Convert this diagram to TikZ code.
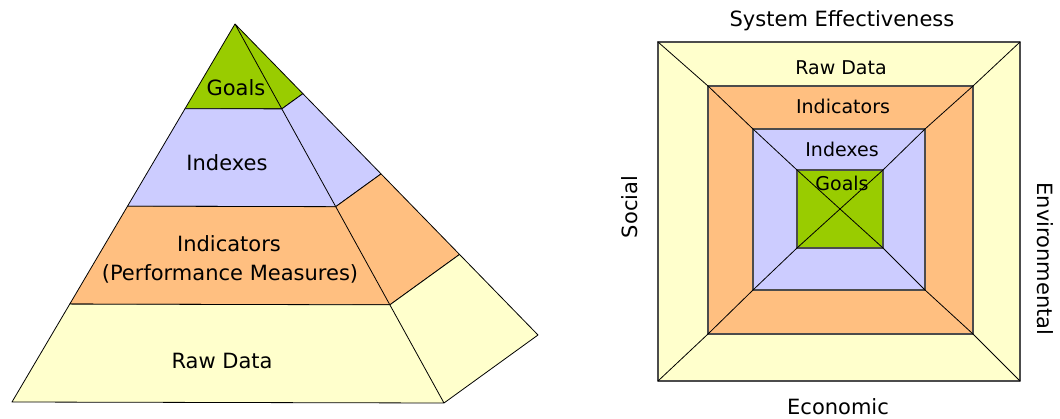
\documentclass[tikz,border=0pt]{standalone}
\usepackage{fontspec}
\setmainfont{DejaVu Sans}
\usetikzlibrary{calc}
\definecolor{goalgreen}{HTML}{99CC00}
\definecolor{indexblue}{HTML}{CCCCFF}
\definecolor{indorange}{HTML}{FFBF80}
\definecolor{rawyellow}{HTML}{FFFFCC}
\tikzset{
  big/.style={font=\fontsize{21}{25}\selectfont, anchor=base, inner sep=0pt},
  small/.style={font=\fontsize{19}{23}\selectfont, anchor=base, inner sep=0pt},
  band/.style={draw=black, line width=0.8pt},
  ring/.style={draw=black!70, line width=1.1pt}
}
\begin{document}
\begin{tikzpicture}[x=1pt, y=-1pt, line join=round, line cap=round]
  \useasboundingbox (0,0) rectangle (1060,419);
  % pyramid
  \coordinate (A) at (235,24);
  \coordinate (L) at (12,402);
  \coordinate (F) at (444,403);
  \coordinate (B) at (538,335);
  \foreach \t/\n in {0.224/1, 0.482/2, 0.741/3, 1/4}{
    \coordinate (L\n) at ($(A)!\t!(L)$);
    \coordinate (F\n) at ($(A)!\t!(F)$);
    \coordinate (B\n) at ($(A)!\t!(B)$);
  }
  \filldraw[band, fill=goalgreen] (A) -- (L1) -- (F1) -- cycle
    (A) -- (F1) -- (B1) -- cycle;
  \filldraw[band, fill=indexblue] (L1) -- (L2) -- (F2) -- (F1) -- cycle
    (F1) -- (F2) -- (B2) -- (B1) -- cycle;
  \filldraw[band, fill=indorange] (L2) -- (L3) -- (F3) -- (F2) -- cycle
    (F2) -- (F3) -- (B3) -- (B2) -- cycle;
  \filldraw[band, fill=rawyellow] (L3) -- (L4) -- (F4) -- (F3) -- cycle
    (F3) -- (F4) -- (B4) -- (B3) -- cycle;
  \node[big] (pgoals) at (236,96) {Goals};
  \node[big] (pindexes) at (227,171) {Indexes};
  \node[big] (pindicators) at (229,252) {Indicators};
  \node[big] (pmeasures) at (230,281) {(Performance Measures)};
  \node[big] (praw) at (222,369) {Raw Data};
  % nested squares
  \coordinate (o1) at (658,42);  \coordinate (o2) at (1020,381);
  \coordinate (r1) at (708,86);  \coordinate (r2) at (973,334);
  \coordinate (x1) at (753,129); \coordinate (x2) at (925,290);
  \coordinate (g1) at (797,170); \coordinate (g2) at (883,248);
  \filldraw[ring, fill=rawyellow] (o1) rectangle (o2);
  \filldraw[ring, fill=indorange] (r1) rectangle (r2);
  \filldraw[ring, fill=indexblue] (x1) rectangle (x2);
  \filldraw[ring, fill=goalgreen] (g1) rectangle (g2);
  \draw[band] (o1) -- (r1) -- (x1) -- (g1) -- (g2) -- (x2) -- (r2) -- (o2);
  \draw[band] (o1 |- o2) -- (r1 |- r2) -- (x1 |- x2) -- (g1 |- g2)
    -- (g2 |- g1) -- (x2 |- x1) -- (r2 |- r1) -- (o2 |- o1);
  \node[small] (sraw) at (841,75) {Raw Data};
  \node[small] (sindicators) at (843,114) {Indicators};
  \node[small] (sindexes) at (842,157) {Indexes};
  \node[small] (sgoals) at (842,191) {Goals};
  \node[big] (system) at (842,27) {System Effectiveness};
  \node[big] (economic) at (838,414) {Economic};
  \node[big, rotate=90] (social) at (637,207) {Social};
  \node[big, rotate=-90] (environ) at (1037,259) {Environmental};
\end{tikzpicture}
\end{document}
